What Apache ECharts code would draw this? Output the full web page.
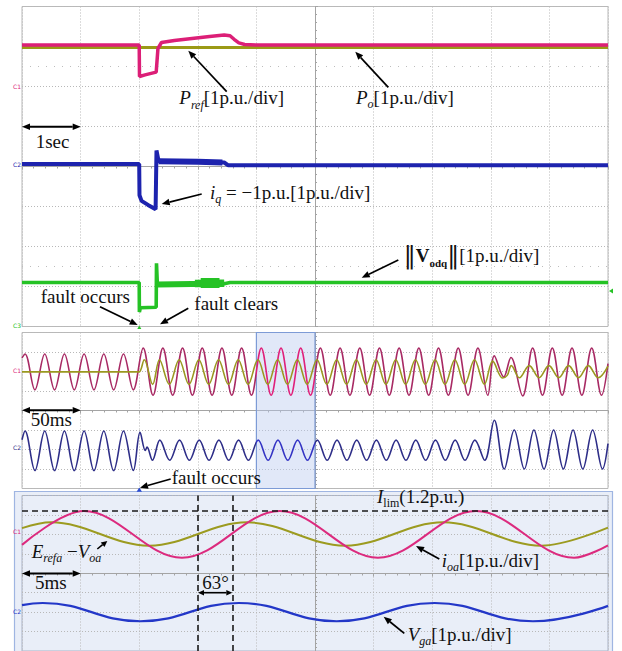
<!DOCTYPE html>
<html><head><meta charset="utf-8">
<script src="https://cdn.jsdelivr.net/npm/echarts@6/dist/echarts.min.js"></script>
<style>html,body{margin:0;padding:0;background:#fff}#c{width:622px;height:651px}</style>
</head><body><div id="c"></div>
<script>
// ================= DATA =================
// Top panel: time [s] (1 s/div), values [p.u.]
const topPref = [[0,0.975],[10,0.975]];
const topPo = [[0,1.035],[2.0,1.035],[2.005,0.25],[2.1,0.29],[2.29,0.36],[2.32,0.95],[2.38,1.1],[2.6,1.15],[2.9,1.2],[3.2,1.25],[3.45,1.29],[3.55,1.27],[3.62,1.18],[3.7,1.09],[3.8,1.05],[4.0,1.035],[10,1.035]];
const topIq = [[0,0.06],[2.0,0.06],[2.005,-0.72],[2.04,-0.86],[2.15,-0.96],[2.28,-1.07],[2.295,0.4],[2.33,0.14],[3.0,0.12],[3.45,0.1],[3.52,0.03],[10,0.03]];
const topIqNoise = [[2.33,0.13],[3.0,0.12],[3.42,0.1]];
const topVodq = [[0,1.1],[2.0,1.1],[2.003,0.36],[2.02,0.47],[2.29,0.48],[2.295,1.58],[2.31,1.05],[3.0,1.06],[3.45,1.07],[3.55,1.1],[10,1.1]];
const topVodqNoise = [[2.31,1.05],[2.9,1.06],[3.45,1.07]];
const topVodqBurstEdge = [[2.95,1.075],[3.45,1.08]];
const topVodqBurstCore = [[3.05,1.085],[3.37,1.085]];
const topGuides = [2.5,-2.5];

// Middle panel: time [ms] (50 ms/div), extrema of each waveform [p.u.]
const midPink = [[0,0.7],[2.6,0.9],[11,-0.94],[19.4,0.9],[27.8,-0.94],[36.2,0.9],[44.6,-0.94],[53,0.9],[61.4,-0.94],[69.8,0.9],[78.2,-0.94],[86.6,0.9],[95,-0.94],
[103.4,1.2],[111.8,-1.22],[120.2,1.2],[128.6,-1.22],[137,1.2],[145.4,-1.22],[153.8,1.2],[162.2,-1.22],[170.6,1.2],[179,-1.22],[187.4,1.2],[195.8,-1.22],[204.2,1.2],[212.6,-1.22],[221,1.2],[229.4,-1.22],[237.8,1.2],[246.2,-1.22],[254.6,1.2],[263,-1.22],[271.4,1.2],[279.8,-1.22],[288.2,1.2],[296.6,-1.22],[305,1.2],[313.4,-1.22],[321.8,1.2],[330.2,-1.22],[338.6,1.2],[347,-1.22],[355.4,1.2],[363.8,-1.22],[372.2,1.2],[380.6,-1.22],[389,1.2],[397.4,-1.22],
[403,0.8],[411,-0.28],[417.2,0.72],[427.2,-1.25],[435.7,1.2],[444.1,-1.22],[452.5,1.2],[460.9,-1.22],[469.3,1.2],[477.7,-1.22],[486.1,1.2],[494.5,-1.22],[500,0.4]];
const midOlive = [[0,-0.02],[96,-0.02],[100,-0.02],[104.3,0.6],[111.5,-0.66],[117.3,0.6],[125.7,-0.66],[134.1,0.6],[142.5,-0.66],[150.9,0.6],[159.3,-0.66],[167.7,0.6],[176.1,-0.66],[184.5,0.6],[192.9,-0.66],[201.3,0.6],[209.7,-0.66],[218.1,0.6],[226.5,-0.66],[234.9,0.6],[243.3,-0.66],[251.7,0.6],[260.1,-0.66],[268.5,0.6],[276.9,-0.66],[285.3,0.6],[293.7,-0.66],[302.1,0.6],[310.5,-0.66],[318.9,0.6],[327.3,-0.66],[335.7,0.6],[344.1,-0.66],[352.5,0.6],[360.9,-0.66],[369.3,0.6],[377.7,-0.66],[386.1,0.6],[394.5,-0.66],
[401.6,0.53],[410,-0.33],[414,-0.2],[417.5,0.3],[424.4,-0.32],[432.8,0.3],[441.2,-0.32],[449.6,0.3],[458,-0.32],[466.4,0.3],[474.8,-0.32],[483.2,0.3],[491.6,-0.32],[500,0.28]];
const midBlue = [[0,0.5],[2.6,0.95],[11,-1.08],[19.4,0.95],[27.8,-1.08],[36.2,0.95],[44.6,-1.08],[53,0.95],[61.4,-1.08],[69.8,0.95],[78.2,-1.08],[86.6,0.95],[95,-1.08],
[100.7,0.88],[105.2,-0.05],[106.7,0.12],[111.3,-0.55],
[117.6,0.48],[126,-0.55],[134.4,0.48],[142.8,-0.55],[151.2,0.48],[159.6,-0.55],[168,0.48],[176.4,-0.55],[184.8,0.48],[193.2,-0.55],[201.6,0.48],[210,-0.55],[218.4,0.48],[226.8,-0.55],[235.2,0.48],[243.6,-0.55],[252,0.48],[260.4,-0.55],[268.8,0.48],[277.2,-0.55],[285.6,0.48],[294,-0.55],[302.4,0.48],[310.8,-0.55],[319.2,0.48],[327.6,-0.55],[336,0.48],[344.4,-0.55],[352.8,0.48],[361.2,-0.55],[369.6,0.48],[378,-0.55],[386.4,0.48],[394.8,-0.55],
[403,1.5],[411.5,-1.0],[420,1.0],[428.6,-1.0],[436.8,1.0],[445.4,-1.0],[453.6,1.0],[461.9,-1.0],[470.2,1.0],[478.5,-1.0],[486.9,1.0],[495.3,-1.0],[500,0.3]];
const zoomWindow = [200,250];

// Bottom panel: time [ms] (5 ms/div), extrema [p.u.]
const botPink = [[0,-0.54],[5.29,1.2],[13.65,-1.2],[22.0,1.2],[30.37,-1.2],[38.74,1.2],[47.1,-1.2],[50,-0.56]];
const botOlive = [[0,0.32],[2.47,0.62],[10.85,-0.58],[19.2,0.62],[27.57,-0.58],[35.93,0.62],[44.3,-0.58],[50,0.35]];
const botBlue = [[0,0.36],[1.77,0.47],[10.1,-0.47],[18.5,0.47],[26.85,-0.47],[35.2,0.47],[43.6,-0.47],[50,0.32]];
const iLim = 1.2;
const phaseMarks = [15.0,17.95];

// ================= CHART =================
const FONT = "'Liberation Serif','Times New Roman',serif";
const gridLine = {show:true, lineStyle:{color:'#b8b8b8', type:[1,2], width:1}};
function mainX(g,max,iv){return {type:'value',gridIndex:g,min:0,max:max,interval:iv,axisLine:{show:false},axisTick:{show:false},axisLabel:{show:false},splitLine:gridLine};}
function centerX(g,max,iv,off){return {type:'value',gridIndex:g,min:0,max:max,interval:iv,position:'bottom',offset:off,
  axisLine:{show:true,lineStyle:{color:'#a4a4a4',width:1}},axisTick:{show:true,length:3,lineStyle:{color:'#a4a4a4'}},
  minorTick:{show:true,splitNumber:5,length:2,lineStyle:{color:'#a4a4a4'}},axisLabel:{show:false},splitLine:{show:false}};}
function mainY(g){return {type:'value',gridIndex:g,min:-4,max:4,interval:1,axisLine:{show:false},axisTick:{show:false},axisLabel:{show:false},splitLine:gridLine};}
function centerY(g,off){return {type:'value',gridIndex:g,min:-4,max:4,interval:1,position:'right',offset:off,
  axisLine:{show:true,lineStyle:{color:'#a4a4a4',width:1}},axisTick:{show:true,length:3,lineStyle:{color:'#a4a4a4'}},
  minorTick:{show:true,splitNumber:5,length:2,lineStyle:{color:'#a4a4a4'}},axisLabel:{show:false},splitLine:{show:false}};}
function hidY(g,min,max){return {type:'value',gridIndex:g,min:min,max:max,show:false};}
function line(data,xi,yi,color,width,extra){
  return Object.assign({type:'line',data:data,xAxisIndex:xi,yAxisIndex:yi,symbol:'none',showSymbol:false,silent:true,
    lineStyle:{color:color,width:width},emphasis:{disabled:true}},extra||{});
}
function bandGrad(out,inn){
  return {type:'linear',x:0,y:0,x2:1,y2:0,colorStops:[{offset:0,color:out},{offset:0.4,color:out},{offset:0.4,color:inn},{offset:0.5,color:inn},{offset:0.5,color:out},{offset:1,color:out}]};
}

const PINK='#dc1f77', OLIVE='#9b9a16', BLUE='#1d23ae', GREEN='#25c225';

const series = [
  line(topPref,0,2,OLIVE,3),
  line(topPo,0,2,PINK,3.5),
  line(topIq,0,3,BLUE,4,{markLine:{silent:true,symbol:'none',label:{show:false},lineStyle:{color:'#bdbdbd',type:[1,7],width:1},data:topGuides.map(v=>({yAxis:v}))}}),
  line(topIqNoise,0,3,BLUE,6),
  line(topVodq,0,4,GREEN,3.6),
  line(topVodqNoise,0,4,GREEN,6),
  line(topVodqBurstEdge,0,4,GREEN,7.5),
  line(topVodqBurstCore,0,4,GREEN,10),
  line(midPink,2,7,bandGrad('#a82a64','#e0207a'),1.6,{smooth:0.36,
    markArea:{silent:true,label:{show:false},itemStyle:{color:'rgba(184,201,238,0.42)',borderColor:'#7d9bd6',borderWidth:1.2},
      data:[[{xAxis:zoomWindow[0]},{xAxis:zoomWindow[1]}]]}}),
  line(midOlive,2,7,'#9a9820',1.6,{smooth:0.36}),
  line(midBlue,2,8,bandGrad('#2e2e88','#3434c4'),1.6,{smooth:0.36}),
  line(botOlive,4,11,'#9c9b20',2,{smooth:0.36,
    markLine:{silent:true,symbol:'none',label:{show:false},lineStyle:{color:'#1a1a1a',type:[6,4],width:1.6},data:phaseMarks.map(v=>({xAxis:v}))}}),
  line(botPink,4,11,'#dc2a7e',2,{smooth:0.36,
    markLine:{silent:true,symbol:'none',label:{show:false},lineStyle:{color:'#1a1a1a',type:[6,4],width:1.6},data:[{yAxis:iLim}]}}),
  line(botBlue,4,12,'#2337c8',2.2,{smooth:0.45})
];

// ---------- annotations ----------
const els = [];
els.push({type:'rect',z:-5,shape:{x:14.5,y:491.5,width:598,height:170},style:{fill:'#e9eef8',stroke:'#9fb5e2',lineWidth:1.2}});
function head(x1,y1,x2,y2,L,Wd){
  const dx=x2-x1,dy=y2-y1,d=Math.hypot(dx,dy),ux=dx/d,uy=dy/d;
  const bx=x2-ux*L,by=y2-uy*L;
  els.push({type:'polygon',z:100,shape:{points:[[x2,y2],[bx-uy*Wd,by+ux*Wd],[bx+uy*Wd,by-ux*Wd]]},style:{fill:'#000'}});
  return [bx,by];
}
function arrow(x1,y1,x2,y2,L,Wd,lw){
  L=L||8;Wd=Wd||3.3;
  const b=head(x1,y1,x2,y2,L,Wd);
  els.push({type:'line',z:100,shape:{x1:x1,y1:y1,x2:b[0],y2:b[1]},style:{stroke:'#000',lineWidth:lw||1.7}});
}
function dbl(x1,y1,x2,y2,L,Wd,lw){
  L=L||8;Wd=Wd||3.3;
  const b2=head(x1,y1,x2,y2,L,Wd), b1=head(x2,y2,x1,y1,L,Wd);
  els.push({type:'line',z:100,shape:{x1:b1[0],y1:b1[1],x2:b2[0],y2:b2[1]},style:{stroke:'#000',lineWidth:lw||2}});
}
const R = {
  i:{fontFamily:FONT,fontStyle:'italic',fontSize:19,lineHeight:26,fill:'#111'},
  n:{fontFamily:FONT,fontSize:19,lineHeight:26,fill:'#111'},
  s:{fontFamily:FONT,fontStyle:'italic',fontSize:12,lineHeight:12,verticalAlign:'bottom',fill:'#111'},
  sn:{fontFamily:FONT,fontSize:12,lineHeight:12,verticalAlign:'bottom',fill:'#111'},
  b:{fontFamily:FONT,fontWeight:'bold',fontSize:19,lineHeight:26,fill:'#111'},
  bs:{fontFamily:FONT,fontWeight:'bold',fontSize:11,lineHeight:12,verticalAlign:'bottom',fill:'#111'},
  bar:{fontFamily:"'DejaVu Serif',serif",fontSize:24,lineHeight:26,fill:'#111'}
};
function txt(x,base,text){
  els.push({type:'text',z:100,x:x,y:base-5.7,style:{text:text,rich:R,align:'left',verticalAlign:'middle',fontFamily:FONT,fontSize:19,fill:'#111'}});
}
// top panel
txt(179.3,103.5,'{i|P}{s|ref}{n|[1p.u./div]}');  arrow(226.7,91.7,188.3,50.7);
txt(356,102.7,'{i|P}{s|o}{n|[1p.u./div]}');      arrow(388.3,87.3,355.3,51.7);
dbl(22,126.7,80.7,126.7);  txt(35.7,146.7,'{n|1sec}');
txt(210,197.7,'{i|i}{s|q}{n| = −1p.u.[1p.u./div]}'); arrow(201.7,194,161.7,204);
txt(403.7,261,'{bar|‖}{b|V}{bs|odq}{bar|‖}{n|[1p.u./div]}'); arrow(398.3,260,361.7,277.7);
txt(40.7,301.7,'{n|fault occurs}'); arrow(100,306.7,137.7,325);
txt(194.3,308.7,'{n|fault clears}'); arrow(188.3,308.3,160,324.3);
// middle panel
dbl(22,410.3,80.7,410.3); txt(30.7,425,'{n|50ms}');
txt(171.7,483.3,'{n|fault occurs}'); arrow(170.7,479,140,487.7);
// bottom panel
txt(377,502,'{i|I}{sn|lim}{n|(1.2p.u.)}');
txt(31.7,556.7,'{i|E}{s|refa}{n| −}{i|V}{s|oa}'); arrow(97.3,549,107.3,541,6,3,1.6);
dbl(22,573.5,80.7,573.5); txt(35,588.3,'{n|5ms}');
txt(202.3,588,'{n|63°}'); dbl(198,592.7,232.3,592.7,6,2.8,1.6);
txt(441.7,566,'{i|i}{s|oa}{n|[1p.u./div]}'); arrow(439.3,559,416,546);
txt(407.7,640,'{i|V}{s|ga}{n|[1p.u./div]}'); arrow(404.3,633.3,383.7,616.7);
// channel markers
function mark(x,y,t,c){els.push({type:'text',z:100,x:x,y:y,style:{text:t,fill:c,fontSize:6,fontFamily:'DejaVu Sans',align:'center',verticalAlign:'middle'}});}
mark(17,86.5,'C1',PINK); mark(17,164,'C2',BLUE); mark(17,325,'C3',GREEN);
mark(17,370,'C1',PINK); mark(17,447,'C2','#2e2e88');
mark(17,531,'C1',PINK); mark(17,611,'C2','#2337c8');
els.push({type:'polygon',z:100,shape:{points:[[139.3,487.5],[136.6,491.8],[142,491.8]]},style:{fill:'#2a4bd0'}});
els.push({type:'polygon',z:100,shape:{points:[[139.3,325.5],[137.3,329],[141.3,329]]},style:{fill:GREEN}});
els.push({type:'polygon',z:100,shape:{points:[[609,291],[613,288.5],[613,293.5]]},style:{fill:GREEN}});

const option = {
  animation:false,
  backgroundColor:'#ffffff',
  grid:[
    {left:22,top:6.5,width:586,height:320,show:true,borderColor:'#b9b9b9',borderWidth:1,backgroundColor:'#ffffff'},
    {left:22,top:332.5,width:586,height:156,show:true,borderColor:'#b9b9b9',borderWidth:1,backgroundColor:'#ffffff'},
    {left:22,top:495.5,width:586,height:156,show:true,borderColor:'#a9b2c6',borderWidth:1,backgroundColor:'#e9eef8'}
  ],
  xAxis:[mainX(0,10,1),centerX(0,10,1,-160),mainX(1,500,50),centerX(1,500,50,-78),mainX(2,50,5),centerX(2,50,5,-78)],
  yAxis:[mainY(0),centerY(0,-293),hidY(0,-6,2),hidY(0,-4,4),hidY(0,0,8),
         mainY(1),centerY(1,-293),hidY(1,-6,2),hidY(1,-2,6),
         mainY(2),centerY(2,-293),hidY(2,-6,2),hidY(2,-2,6)],
  series:series,
  graphic:{elements:els}
};
const chart = echarts.init(document.getElementById('c'),null,{renderer:'svg'});
chart.setOption(option);
</script></body></html>
